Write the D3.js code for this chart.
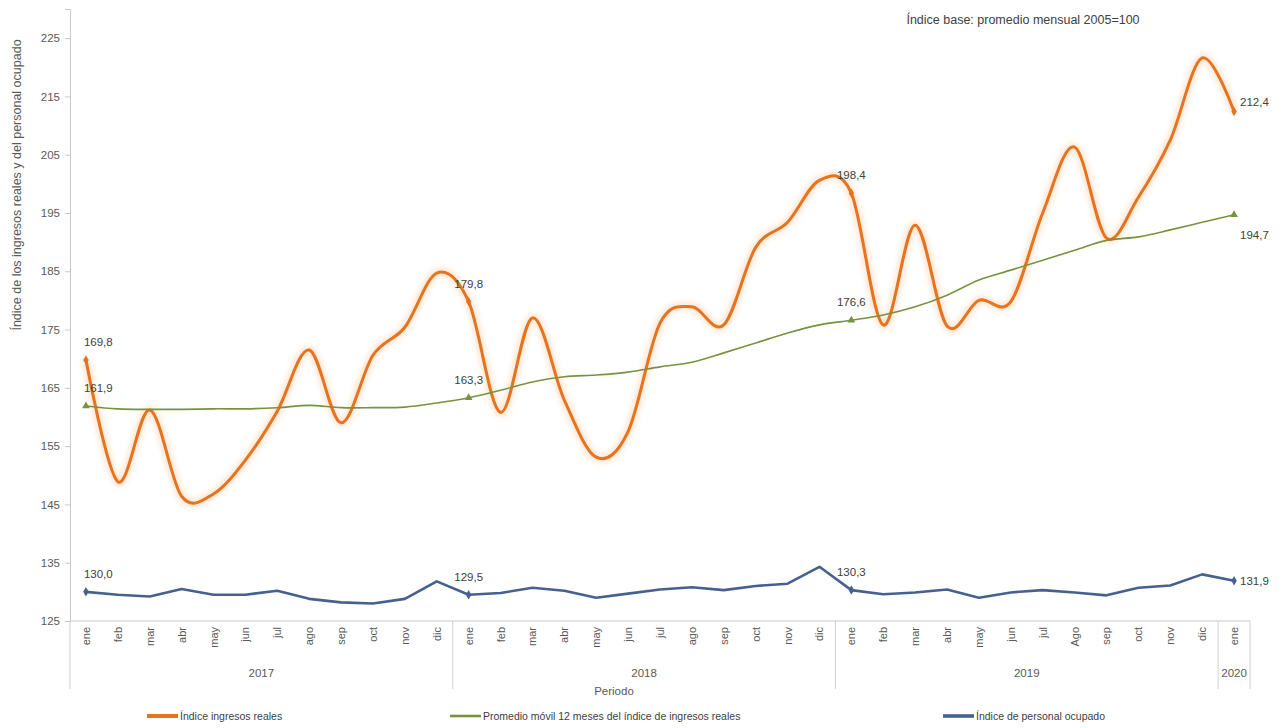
<!DOCTYPE html>
<html>
<head>
<meta charset="utf-8">
<script src="https://cdn.jsdelivr.net/npm/d3@7"></script>
<style>
  body { margin: 0; background: #fff; }
  svg { font-family: "Liberation Sans", Arial, sans-serif; }
</style>
</head>
<body>
<svg id="chart" width="1286" height="728"></svg>
<script>
// categories
const years = ['2017', '2018', '2019', '2020']
const months2017 = ['ene','feb','mar','abr','may','jun','jul','ago','sep','oct','nov','dic']
const months2018 = ['ene','feb','mar','abr','may','jun','jul','ago','sep','oct','nov','dic']
const months2019 = ['ene','feb','mar','abr','may','jun','jul','Ago','sep','oct','nov','dic']
const months2020 = ['ene']

// series values
const ingresos = [
  169.8, 148.9, 161.2, 146.4, 146.8, 152.6, 161.0, 171.5, 159.0, 170.6, 175.4, 184.7,
  179.8, 160.8, 177.0, 162.9, 153.1, 157.5, 176.1, 178.9, 175.8, 189.1, 193.4, 200.6,
  198.4, 175.8, 192.9, 175.6, 180.0, 179.8, 195.0, 206.3, 190.7, 197.7, 207.5, 221.6,
  212.4
]
const promedio = [
  161.9, 161.4, 161.3, 161.3, 161.4, 161.4, 161.6, 162.0, 161.6, 161.6, 161.7, 162.4,
  163.3, 164.6, 166.0, 166.9, 167.2, 167.7, 168.6, 169.4, 171.0, 172.7, 174.4, 175.8,
  176.6, 177.5, 178.9, 180.9, 183.5, 185.2, 186.9, 188.6, 190.3, 190.9, 192.1, 193.4,
  194.7
]
const personal = [
  130.0, 129.5, 129.2, 130.5, 129.5, 129.5, 130.2, 128.8, 128.2, 128.0, 128.8, 131.8,
  129.5, 129.8, 130.7, 130.2, 129.0, 129.7, 130.4, 130.8, 130.3, 131.0, 131.4, 134.3,
  130.3, 129.6, 129.9, 130.4, 129.0, 129.9, 130.3, 129.9, 129.4, 130.7, 131.1, 133.0,
  131.9
]
const labelled = [0, 12, 24, 36]           // points that carry a data label

// tick labels
const yTicks = [125, 135, 145, 155, 165, 175, 185, 195, 205, 215, 225]

const yTitle = 'Índice de los ingresos reales y del personal ocupado'
const baseNote = 'Índice base: promedio mensual 2005=100'
const xTitle = 'Periodo'

const MARGINS = { top: 9, left: 70, bottom: 107, right: 36 }
const WIDTH = 1286, HEIGHT = 728

const groups = [months2017, months2018, months2019, months2020]
const periods = []
groups.forEach((ms, gi) => ms.forEach((m, mi) => periods.push({ key: years[gi] + '-' + mi, month: m, year: years[gi] })))

const series = [
  { name: 'Índice ingresos reales', values: ingresos, color: '#E6731E', width: 3, glow: true,
    curve: d3.curveCardinal.tension(0), marker: 'diamond' },
  { name: 'Promedio móvil 12 meses del índice de ingresos reales', values: promedio, color: '#77933C', width: 1.6,
    curve: d3.curveCardinal.tension(0), marker: 'triangle' },
  { name: 'Índice de personal ocupado', values: personal, color: '#46618F', width: 2.6,
    curve: d3.curveLinear, marker: 'diamond' }
]

const svg = d3.select('#chart')

const defs = svg.append('defs')
defs.append('filter').attr('id', 'glow').attr('x', '-5%').attr('y', '-5%').attr('width', '110%').attr('height', '110%')
  .append('feGaussianBlur').attr('stdDeviation', 2.4)

const x = d3.scalePoint()
  .domain(periods.map(d => d.key))
  .range([MARGINS.left, WIDTH - MARGINS.right])
  .padding(0.5)
const step = x.step()

const y = d3.scaleLinear()
  .domain([125, 230])
  .range([HEIGHT - MARGINS.bottom, MARGINS.top])

const baseY = y(125)
const fmt = v => v.toFixed(1).replace('.', ',')
const textColor = '#595959'

// y axis
const yAxis = svg.append('g').attr('transform', 'translate(' + MARGINS.left + ',0)')
  .call(d3.axisLeft(y).tickValues(yTicks).tickSize(5).tickPadding(5))
yAxis.select('.domain').attr('stroke', '#c8c8c8')
yAxis.selectAll('.tick line').attr('stroke', '#c8c8c8')
yAxis.selectAll('.tick text').attr('fill', textColor).attr('font-size', 11.5)
  .attr('font-family', '"Liberation Sans", Arial, sans-serif')

svg.append('text')
  .attr('transform', 'translate(21,' + 185 + ') rotate(-90)')
  .attr('text-anchor', 'middle')
  .attr('font-size', 12.5).attr('fill', textColor)
  .text(yTitle)

svg.append('text')
  .attr('x', 1023).attr('y', 24)
  .attr('text-anchor', 'middle')
  .attr('font-size', 12.5).attr('fill', '#404040')
  .text(baseNote)

// x axis: line, month labels, year groups
svg.append('line')
  .attr('x1', MARGINS.left).attr('x2', WIDTH - MARGINS.right)
  .attr('y1', baseY).attr('y2', baseY)
  .attr('stroke', '#c8c8c8')

svg.append('g').selectAll('text')
  .data(periods)
  .join('text')
  .attr('transform', d => 'translate(' + (x(d.key) + 4) + ',' + (baseY + 6) + ') rotate(-90)')
  .attr('text-anchor', 'end')
  .attr('font-size', 11).attr('fill', textColor)
  .text(d => d.month)

let start = 0
const bounds = [MARGINS.left]
groups.forEach((ms, gi) => {
  const x0 = x(periods[start].key) - step / 2
  const x1 = x(periods[start + ms.length - 1].key) + step / 2
  bounds.push(x1)
  svg.append('text')
    .attr('x', (x0 + x1) / 2).attr('y', baseY + 56)
    .attr('text-anchor', 'middle')
    .attr('font-size', 11.5).attr('fill', textColor)
    .text(years[gi])
  start += ms.length
})
svg.append('g').selectAll('line')
  .data(bounds)
  .join('line')
  .attr('x1', d => d).attr('x2', d => d)
  .attr('y1', baseY).attr('y2', baseY + 68)
  .attr('stroke', '#d0d0d0')

svg.append('text')
  .attr('x', 614).attr('y', baseY + 74)
  .attr('text-anchor', 'middle')
  .attr('font-size', 11.5).attr('fill', textColor)
  .text(xTitle)

// lines
const plot = svg.append('g')
series.forEach(s => {
  const line = d3.line()
    .x((d, i) => x(periods[i].key))
    .y(d => y(d))
    .curve(s.curve)
  if (s.glow) {
    plot.append('path').datum(s.values)
      .attr('d', line).attr('fill', 'none')
      .attr('stroke', '#F9C299').attr('stroke-width', 9).attr('stroke-opacity', 0.4)
      .attr('filter', 'url(#glow)')
  }
  plot.append('path').datum(s.values)
    .attr('d', line).attr('fill', 'none')
    .attr('stroke', s.color).attr('stroke-width', s.width)
    .attr('stroke-linejoin', 'round')

  const sym = d3.symbol().type(s.marker === 'triangle' ? d3.symbolTriangle : d3.symbolDiamond).size(26)
  plot.append('g').selectAll('path')
    .data(labelled)
    .join('path')
    .attr('transform', i => 'translate(' + x(periods[i].key) + ',' + y(s.values[i]) + ')')
    .attr('d', sym)
    .attr('fill', s.color)
})

// data labels
series.forEach((s, si) => {
  plot.append('g').selectAll('text')
    .data(labelled)
    .join('text')
    .attr('x', i => {
      const px = x(periods[i].key)
      if (i === 0) return px - 2
      if (i === periods.length - 1) return px + 6
      return px
    })
    .attr('y', i => {
      const py = y(s.values[i])
      if (i === periods.length - 1) return py + [-6, 24, 4][si]
      return py - 14
    })
    .attr('text-anchor', i => (i === 0 || i === periods.length - 1) ? 'start' : 'middle')
    .attr('font-size', 11.5).attr('fill', '#404040')
    .text(i => fmt(s.values[i]))
})

// legend
const legendPos = [147, 450, 943]
const legend = svg.append('g')
series.forEach((s, i) => {
  const g = legend.append('g').attr('transform', 'translate(' + legendPos[i] + ',716)')
  g.append('line').attr('x1', 0).attr('x2', 31).attr('y1', 0).attr('y2', 0)
    .attr('stroke', s.color).attr('stroke-width', s.width + 1)
  g.append('text').attr('x', 33).attr('y', 4)
    .attr('font-size', 10.5).attr('fill', '#404040')
    .text(s.name)
})
</script>
</body>
</html>
